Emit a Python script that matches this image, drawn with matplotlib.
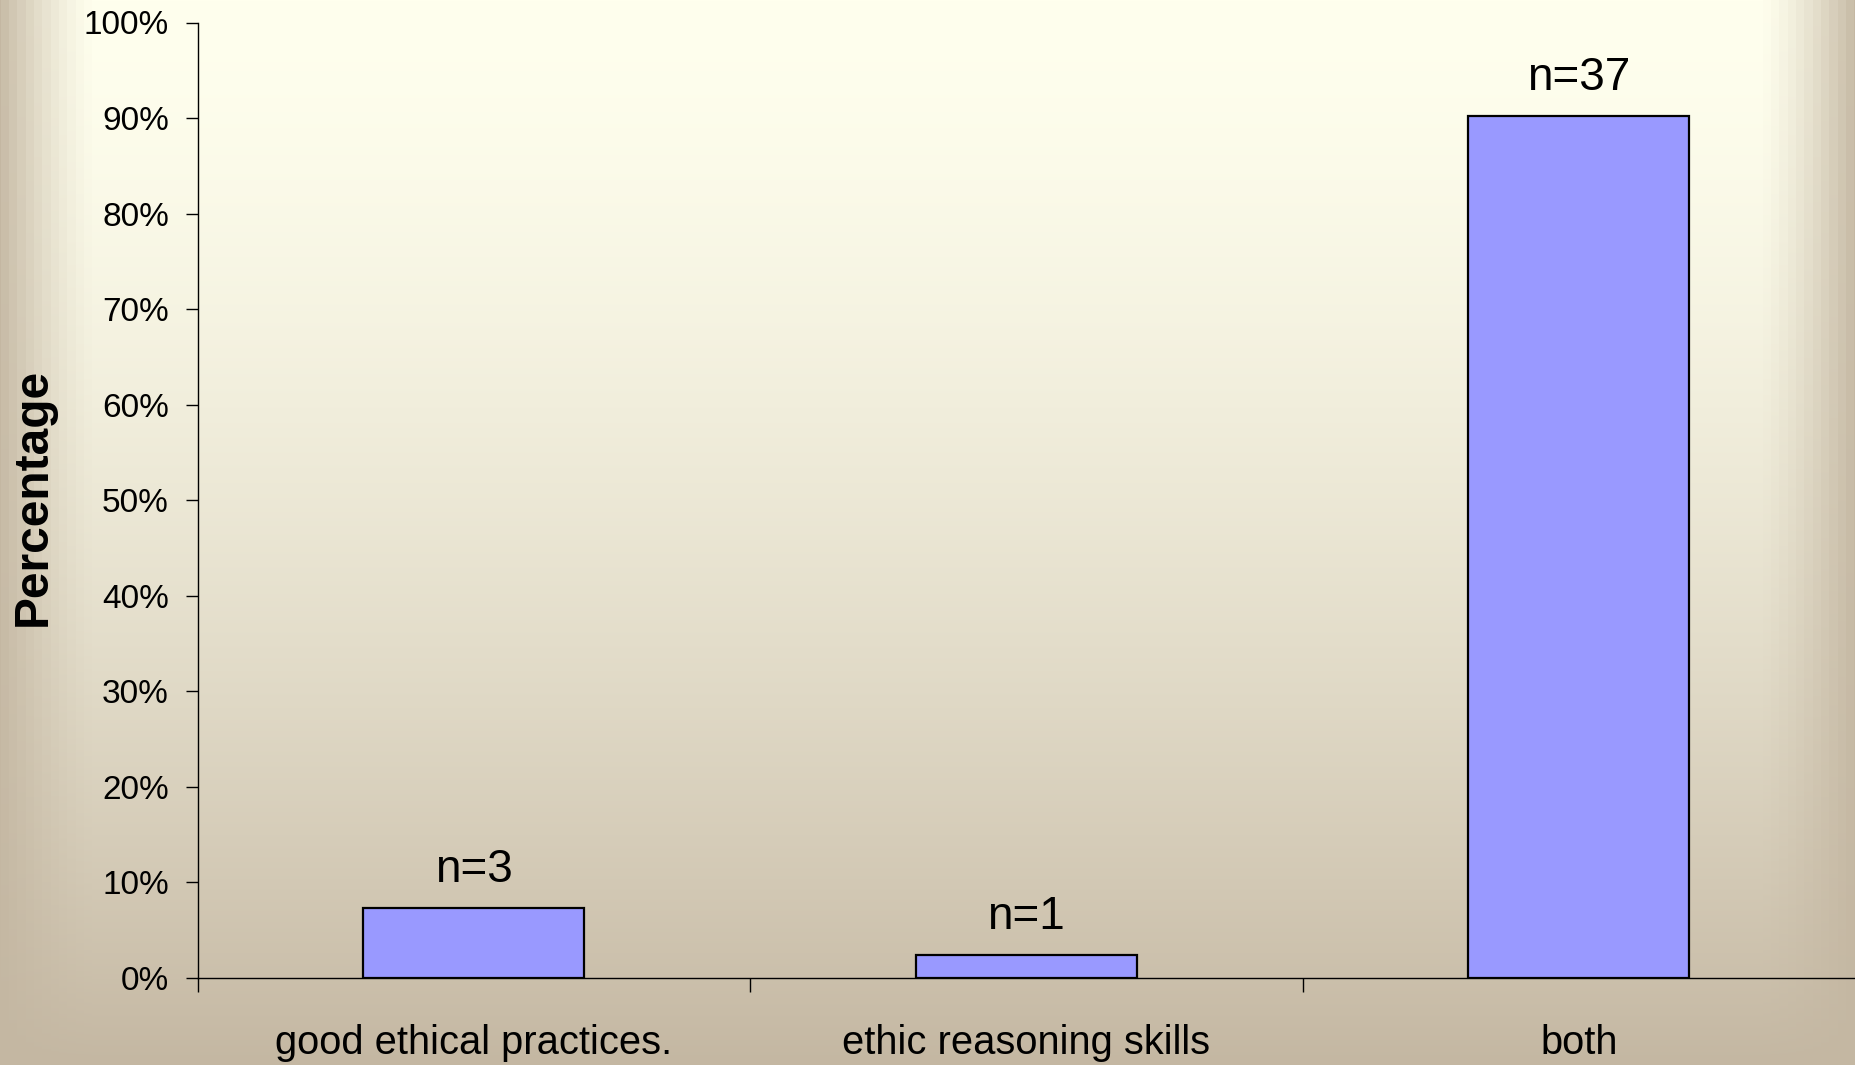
import numpy as np
import matplotlib
matplotlib.use('Agg')
import matplotlib.pyplot as plt
from matplotlib.ticker import FuncFormatter, FixedLocator

plt.rcParams['font.family'] = ['Liberation Sans', 'DejaVu Sans']

categories = ['good ethical practices.', 'ethic reasoning skills', 'both']
percentages = [7.3, 2.4, 90.2]
counts = [3, 1, 37]

W, H = 1855, 1065
fig = plt.figure(figsize=(W / 100, H / 100), dpi=100)

# slide background: vertical cream-to-tan fade, darker bands at the side edges
top_col = np.array([255, 255, 238]) / 255.0
bot_col = np.array([196, 183, 162]) / 255.0
ys = np.linspace(0, 1, H)[:, None, None]
xs = np.arange(W)
t = ys ** 1.5
bg = top_col * (1 - t) + bot_col * t
edge_w = 100.0
dist = np.minimum(xs, W - 1 - xs).astype(float)
e = np.clip(1 - dist / edge_w, 0, 1)
e = np.floor(e * 12) / 12
e = (e ** 1.4)[None, :, None]
bg = bg * (1 - e) + bot_col * e
bg_ax = fig.add_axes([0, 0, 1, 1], zorder=-1)
bg_ax.imshow(bg, aspect='auto', interpolation='bilinear')
bg_ax.axis('off')

ax = fig.add_axes([197.6 / W, 1 - 978 / H, 1 - 197.6 / W, (978 - 22.5) / H])
ax.set_facecolor('none')
x = np.arange(len(categories))
bars = ax.bar(x, percentages, width=0.4, color='#9999FF', edgecolor='black', linewidth=1.6, zorder=3)

for xi, p, n in zip(x, percentages, counts):
    ax.annotate('n=%d' % n, (xi, p), xytext=(0, 19), textcoords='offset points',
                ha='center', va='baseline', fontsize=33)

ax.set_xlim(-0.5, 2.5)
ax.set_ylim(0, 100)
ax.set_yticks(np.arange(0, 101, 10))
ax.yaxis.set_major_formatter(FuncFormatter(lambda v, pos: '%d%%' % v))
ax.tick_params(axis='y', direction='out', length=8.6, width=1, labelsize=24, pad=12)

ax.set_xticks(x)
ax.set_xticklabels(categories)
ax.xaxis.set_minor_locator(FixedLocator([-0.5, 0.5, 1.5]))
ax.tick_params(axis='x', which='major', length=0, labelsize=28.7, pad=33)
ax.tick_params(axis='x', which='minor', direction='out', length=10, width=1)

for s in ['top', 'right']:
    ax.spines[s].set_visible(False)
ax.spines['left'].set_linewidth(1)
ax.spines['bottom'].set_linewidth(1)

fig.text(33 / W, 1 - 497 / H, 'Percentage', rotation=90, ha='center', va='center',
         fontsize=34.5, fontweight='bold')

fig.savefig('out.png', dpi=100)
